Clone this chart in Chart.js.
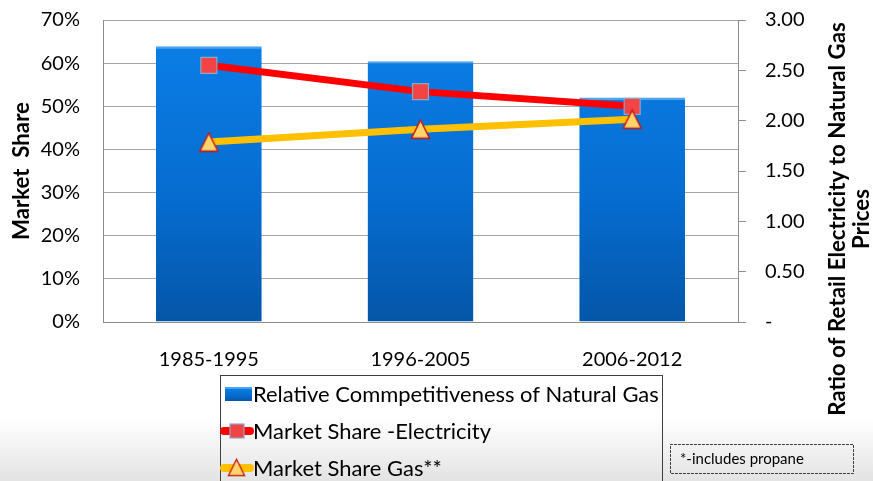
<!DOCTYPE html>
<html>
<head>
<meta charset="utf-8">
<title>Market Share</title>
<script src="https://cdn.jsdelivr.net/npm/chart.js@4.4.1/dist/chart.umd.min.js"></script>
<style>
  html, body { margin: 0; padding: 0; }
  body {
    width: 873px; height: 481px; overflow: hidden;
    background: linear-gradient(to bottom, #ffffff 0px, #ffffff 418px, #e3e3e3 481px);
  }
  #wrap { position: relative; width: 873px; height: 481px; }
</style>
</head>
<body>
<div id="wrap"><canvas id="graphCanvas" width="873" height="481"></canvas></div>
<script>
// chart data
var categories = ['1985-1995', '1996-2005', '2006-2012'];
var competitiveness = [2.74, 2.59, 2.23];      // right axis, ratio
var shareElectricity = [59.5, 53.4, 50.0];     // left axis, %
var shareGas = [41.7, 44.7, 47.0];             // left axis, %
var leftTicks = [0, 10, 20, 30, 40, 50, 60, 70];
var rightTicks = [0, 0.5, 1, 1.5, 2, 2.5, 3];

var seriesNames = ['Relative Commpetitiveness of Natural Gas', 'Market Share -Electricity', 'Market Share Gas**'];
var FONT = 'Lato, "Open Sans", sans-serif';

// triangle marker, centred in its own little canvas
function makeTriangle(size) {
    var c = document.createElement('canvas');
    c.width = size; c.height = size;
    var g = c.getContext('2d');
    g.beginPath();
    g.moveTo(size / 2, 1.5);
    g.lineTo(size - 1.5, size - 1.5);
    g.lineTo(1.5, size - 1.5);
    g.closePath();
    g.fillStyle = '#fed46c';
    g.fill();
    g.lineWidth = 1.5;
    g.strokeStyle = '#c41a10';
    g.stroke();
    return c;
}
var triangle = makeTriangle(21);

function barGradient(ctx, top, bottom) {
    var g = ctx.createLinearGradient(0, top, 0, bottom);
    g.addColorStop(0, '#0b80ea');
    g.addColorStop(0.6, '#066ccf');
    g.addColorStop(1, '#0556a8');
    return g;
}

function fitSize(ctx, text, weight, target) {
    ctx.font = weight + ' 100px ' + FONT;
    return 100 * target / ctx.measureText(text).width;
}

// no label overflow padding on the value axes, the plot must start at y=20
function fixWidth(w) {
    return function (scale) {
        scale.width = w;
        scale.paddingTop = 0;
        scale.paddingBottom = 0;
    };
}

// titles, legend and note box drawn by hand
var extras = {
    id: 'extras',
    afterDraw: function (chart) {
        var ctx = chart.ctx;
        ctx.save();
        ctx.fillStyle = '#000';

        // left axis title
        var s = fitSize(ctx, 'Market  Share', 'bold', 138);
        ctx.font = 'bold ' + s + 'px ' + FONT;
        ctx.textAlign = 'center';
        ctx.textBaseline = 'alphabetic';
        ctx.save();
        ctx.translate(29, 171);
        ctx.rotate(-Math.PI / 2);
        ctx.fillText('Market  Share', 0, 0);
        ctx.restore();

        // right axis title, two lines
        s = fitSize(ctx, 'Ratio of Retail Electricity to Natural Gas', 'bold', 394);
        ctx.font = 'bold ' + s + 'px ' + FONT;
        ctx.save();
        ctx.translate(845, 219);
        ctx.rotate(-Math.PI / 2);
        ctx.fillText('Ratio of Retail Electricity to Natural Gas', 0, 0);
        ctx.fillText('Prices', 0, 24);
        ctx.restore();

        // legend box
        ctx.strokeStyle = '#404040';
        ctx.lineWidth = 1;
        ctx.strokeRect(220.5, 375.5, 442, 130);

        s = fitSize(ctx, seriesNames[0], 'normal', 406);
        ctx.font = s + 'px ' + FONT;
        ctx.textAlign = 'left';
        ctx.textBaseline = 'middle';
        var rows = [394, 431, 468];

        ctx.fillStyle = barGradient(ctx, 387, 401);
        ctx.fillRect(225, 387, 27, 14);
        ctx.fillStyle = '#4aa3f0';
        ctx.fillRect(225, 387, 27, 2);

        ctx.lineCap = 'round';
        ctx.lineWidth = 8;
        ctx.strokeStyle = '#ff0000';
        ctx.beginPath(); ctx.moveTo(224, rows[1]); ctx.lineTo(250, rows[1]); ctx.stroke();
        ctx.fillStyle = '#f24444';
        ctx.fillRect(230, rows[1] - 7, 14, 14);
        ctx.lineWidth = 1.2;
        ctx.strokeStyle = '#8ea6c8';
        ctx.strokeRect(230, rows[1] - 7, 14, 14);

        ctx.lineWidth = 8;
        ctx.strokeStyle = '#ffc000';
        ctx.beginPath(); ctx.moveTo(224, rows[2]); ctx.lineTo(250, rows[2]); ctx.stroke();
        ctx.drawImage(triangle, 227, rows[2] - 10, 19, 19);

        ctx.fillStyle = '#000';
        for (var i = 0; i < seriesNames.length; i++) {
            ctx.fillText(seriesNames[i], 253, rows[i] + 1);
        }

        // footnote
        ctx.setLineDash([2, 2]);
        ctx.lineWidth = 1;
        ctx.strokeStyle = '#333';
        ctx.strokeRect(670.5, 444.5, 183, 29);
        ctx.setLineDash([]);
        ctx.font = '15px ' + FONT;
        ctx.fillText('*-includes propane', 680, 459);

        ctx.restore();
    }
};

var graphTarget = document.getElementById('graphCanvas');

var barGraph = new Chart(graphTarget, {
    data: {
        labels: categories,
        datasets: [
            {
                type: 'line',
                label: seriesNames[2],
                data: shareGas,
                yAxisID: 'y',
                order: 1,
                borderColor: '#ffc000',
                borderWidth: 7,
                pointStyle: triangle,
                pointRadius: 10,
                pointHoverRadius: 10
            },
            {
                type: 'line',
                label: seriesNames[1],
                data: shareElectricity,
                yAxisID: 'y',
                order: 2,
                borderColor: '#ff0000',
                borderWidth: 7,
                pointStyle: 'rect',
                pointRadius: 11.3,
                pointHoverRadius: 11.3,
                pointBackgroundColor: '#f24444',
                pointBorderColor: '#8ea6c8',
                pointBorderWidth: 1.2
            },
            {
                type: 'bar',
                label: seriesNames[0],
                data: competitiveness,
                yAxisID: 'y1',
                order: 3,
                barPercentage: 0.5,
                categoryPercentage: 1,
                backgroundColor: function (c) {
                    var area = c.chart.chartArea;
                    if (!area) return '#0870d8';
                    return barGradient(c.chart.ctx, area.top, area.bottom);
                },
                borderColor: '#4aa3f0',
                borderWidth: { top: 2, left: 0, right: 0, bottom: 0 },
                borderSkipped: false
            }
        ]
    },
    options: {
        responsive: false,
        animation: false,
        events: [],
        layout: { padding: { top: 20, left: 0, right: 0, bottom: 0 } },
        plugins: { legend: { display: false }, tooltip: { enabled: false } },
        scales: {
            x: {
                grid: { display: false },
                border: { display: true, color: '#8c8c8c' },
                ticks: { color: '#000', font: { family: FONT, size: 20 }, padding: 18 },
                afterFit: function (scale) {
                    scale.height = 159;
                    scale.paddingLeft = 0;
                    scale.paddingRight = 0;
                }
            },
            y: {
                position: 'left',
                min: 0, max: 70,
                afterBuildTicks: function (scale) {
                    scale.ticks = leftTicks.map(function (v) { return { value: v }; });
                },
                grid: { color: '#a6a6a6', drawTicks: false },
                border: { display: true, color: '#8c8c8c' },
                ticks: {
                    color: '#000', padding: 23,
                    font: { family: FONT, size: 20 },
                    callback: function (v) { return v + '%'; }
                },
                afterFit: fixWidth(103)
            },
            y1: {
                position: 'right',
                min: 0, max: 3,
                afterBuildTicks: function (scale) {
                    scale.ticks = rightTicks.map(function (v) { return { value: v }; });
                },
                grid: { drawOnChartArea: false, color: '#8c8c8c', tickLength: 8 },
                border: { display: true, color: '#8c8c8c' },
                ticks: {
                    color: '#000', padding: 19,
                    font: { family: FONT, size: 20 },
                    callback: function (v) { return v === 0 ? '-' : v.toFixed(2); }
                },
                afterFit: fixWidth(135)
            }
        }
    },
    plugins: [extras]
});
</script>
</body>
</html>
